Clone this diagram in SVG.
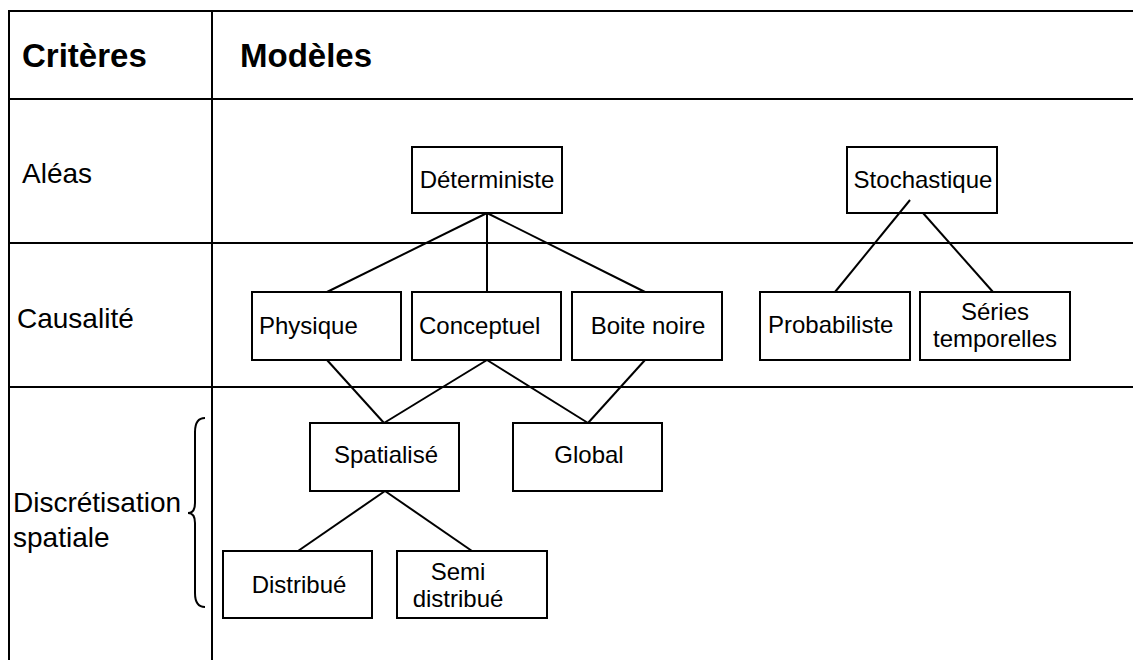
<svg xmlns="http://www.w3.org/2000/svg" width="1133" height="660" viewBox="0 0 1133 660">
<style>
.grid{stroke:#000;stroke-width:2;fill:none}
.box{fill:#fff;stroke:#000;stroke-width:2}
.t{font-family:"Liberation Sans",Arial,sans-serif;font-size:24px;fill:#000}
.c{text-anchor:middle}
.h{font-family:"Liberation Sans",Arial,sans-serif;font-size:33px;font-weight:bold;fill:#000}
.r{font-family:"Liberation Sans",Arial,sans-serif;font-size:28px;fill:#000}
.ln{stroke:#000;stroke-width:2;fill:none}
</style>
<rect width="1133" height="660" fill="#fff"/>
<g id="table">
<line class="grid" x1="9" y1="11" x2="1133" y2="11"/>
<line class="grid" x1="9" y1="99" x2="1133" y2="99"/>
<line class="grid" x1="9" y1="243" x2="1133" y2="243"/>
<line class="grid" x1="9" y1="387" x2="1133" y2="387"/>
<line class="grid" x1="9" y1="10" x2="9" y2="660"/>
<line class="grid" x1="212" y1="10" x2="212" y2="660"/>
<text class="h" x="22" y="67">Critères</text>
<text class="h" x="240" y="67">Modèles</text>
<text class="r" x="22" y="183">Aléas</text>
<text class="r" x="17" y="328">Causalité</text>
<text class="r" x="13" y="512">Discrétisation</text>
<text class="r" x="13" y="547">spatiale</text>
<path class="ln" stroke-width="1.5" d="M205,418 Q195,418 195,432 L195,503 Q195,513 188,513 Q195,513 195,523 L195,593 Q195,607 205,607"/>
</g>
<g id="connectors">
<line class="ln" x1="487" y1="213" x2="327" y2="292"/>
<line class="ln" x1="487" y1="213" x2="487" y2="292"/>
<line class="ln" x1="487" y1="213" x2="645" y2="292"/>
<line class="ln" x1="910" y1="200" x2="835" y2="292"/>
<line class="ln" x1="923" y1="213" x2="993" y2="292"/>
<line class="ln" x1="327" y1="360" x2="384" y2="423"/>
<line class="ln" x1="487" y1="360" x2="384" y2="423"/>
<line class="ln" x1="487" y1="360" x2="588" y2="423"/>
<line class="ln" x1="645" y1="360" x2="588" y2="423"/>
<line class="ln" x1="385" y1="491" x2="298" y2="551"/>
<line class="ln" x1="385" y1="491" x2="472" y2="551"/>
</g>
<g id="n-deterministe"><rect class="box" x="412" y="147" width="150" height="66"/><text class="t c" x="487" y="188">Déterministe</text></g>
<g id="n-stochastique"><rect class="box" x="847" y="147" width="150" height="66" fill-opacity="0"/><text class="t c" x="923" y="188">Stochastique</text></g>
<g id="n-physique"><rect class="box" x="252" y="292" width="149" height="68"/><text class="t" x="259" y="334">Physique</text></g>
<g id="n-conceptuel"><rect class="box" x="412" y="292" width="149" height="68"/><text class="t" x="419" y="334">Conceptuel</text></g>
<g id="n-boite"><rect class="box" x="572" y="292" width="150" height="68"/><text class="t c" x="648" y="334">Boite noire</text></g>
<g id="n-probabiliste"><rect class="box" x="760" y="292" width="150" height="68"/><text class="t" x="768" y="333">Probabiliste</text></g>
<g id="n-series"><rect class="box" x="920" y="292" width="150" height="68"/><text class="t c" x="995" y="320">Séries</text><text class="t c" x="995" y="347">temporelles</text></g>
<g id="n-spatialise"><rect class="box" x="310" y="423" width="149" height="68"/><text class="t c" x="386" y="463">Spatialisé</text></g>
<g id="n-global"><rect class="box" x="513" y="423" width="149" height="68"/><text class="t c" x="589" y="463">Global</text></g>
<g id="n-distribue"><rect class="box" x="223" y="551" width="149" height="67"/><text class="t c" x="299" y="593">Distribué</text></g>
<g id="n-semi"><rect class="box" x="397" y="551" width="150" height="67"/><text class="t c" x="458" y="580">Semi</text><text class="t c" x="458" y="607">distribué</text></g>
</svg>
